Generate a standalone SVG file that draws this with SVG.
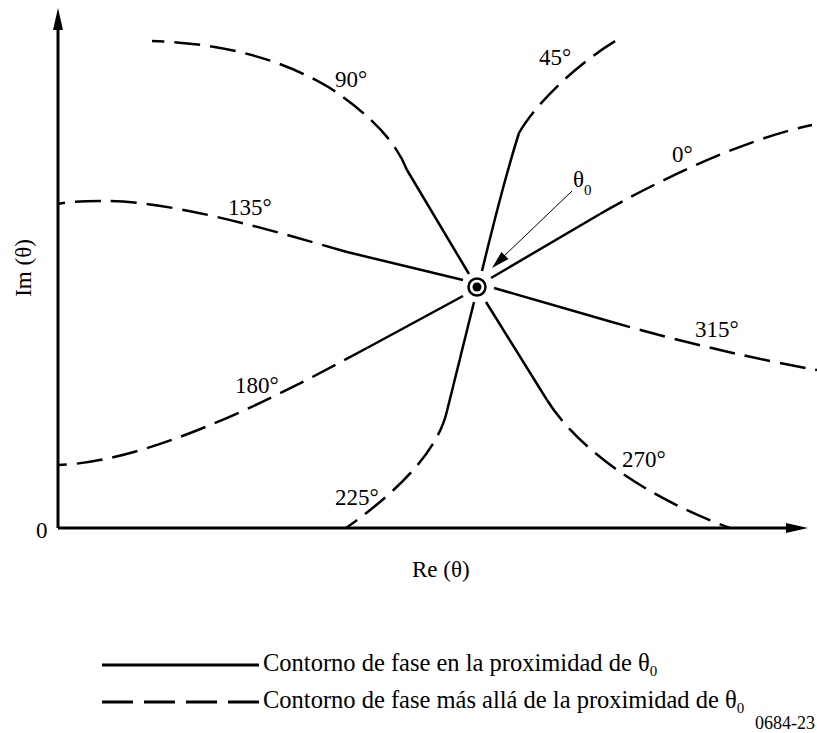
<svg xmlns="http://www.w3.org/2000/svg" width="817" height="733" viewBox="0 0 817 733">
<defs>
<style>
.solid{fill:none;stroke:#000;stroke-width:2.5;stroke-linecap:butt}
.dash{fill:none;stroke:#000;stroke-width:2.5;stroke-dasharray:26 10}
.axis{fill:none;stroke:#000;stroke-width:3}
text{font-family:"Liberation Serif","Times New Roman",serif;font-size:23px;fill:#000}
.sub{font-size:15px}
.leg{font-size:24.5px}
</style>
</defs>
<rect width="817" height="733" fill="#fff"/>
<g id="axes">
<path class="axis" d="M58,528 L58,28 M58,528 L790,528"/>
<polygon points="58,8 53,30 63,30" fill="#000"/>
<polygon points="808,528 786,523 786,533" fill="#000"/>
<text x="36" y="538">0</text>
<text x="412" y="577">Re (θ)</text>
<text transform="translate(31,268) rotate(-90)" text-anchor="middle">Im (θ)</text>
</g>
<g id="connectors">
<g id="c0"><path class="solid" d="M491,278 L600,214"/><path class="dash" d="M600,214 C650,185 740,140 812,125"/><text x="672" y="162">0°</text></g>
<g id="c45"><path class="solid" d="M482,271 C490,238 504,180 519,133"/><path class="dash" d="M519,133 C535,105 575,65 617,40"/><text x="539" y="65">45°</text></g>
<g id="c90"><path class="solid" d="M469,274 L407,170"/><path class="dash" d="M407,170 C395,140 370,115 330,88 C280,58 220,43 152,41"/><text x="335" y="87">90°</text></g>
<g id="c135"><path class="solid" d="M463,280 L347,252"/><path class="dash" d="M347,252 C270,230 170,200 100,201 C80,201 68,202 58,204"/><text x="228" y="215">135°</text></g>
<g id="c180"><path class="solid" d="M463,296 L367,348"/><path class="dash" d="M367,348 C307,380 160,462 58,465"/><text x="235" y="393">180°</text></g>
<g id="c225"><path class="solid" d="M474,302 Q462,350 447,411"/><path class="dash" d="M447,411 C438,450 400,490 346,528"/><text x="335" y="505">225°</text></g>
<g id="c270"><path class="solid" d="M486,302 L547,400"/><path class="dash" d="M547,400 C575,445 640,495 730,528"/><text x="622" y="467">270°</text></g>
<g id="c315"><path class="solid" d="M494,288 L605,320"/><path class="dash" d="M605,320 C680,342 760,360 817,370"/><text x="695" y="337">315°</text></g>
</g>
<g id="theta0">
<circle cx="477" cy="287" r="8.5" fill="#fff" stroke="#000" stroke-width="2.5"/>
<circle cx="477" cy="287" r="4.5" fill="#000"/>
<path d="M572,191 L503,257" stroke="#000" stroke-width="1" fill="none"/>
<polygon points="492,268 508.5,259.1 501.5,251.9" fill="#000"/>
<text x="573" y="187">θ<tspan class="sub" dy="8">0</tspan></text>
</g>
<g id="legend">
<path d="M102,665 L259,665" stroke="#000" stroke-width="3"/>
<text class="leg" x="263" y="671">Contorno de fase en la proximidad de θ<tspan class="sub" dy="5">0</tspan></text>
<path d="M102,702 L259,702" stroke="#000" stroke-width="3" stroke-dasharray="31 11"/>
<text class="leg" x="263" y="708">Contorno de fase más allá de la proximidad de θ<tspan class="sub" dy="5">0</tspan></text>
<text x="815" y="729" text-anchor="end" style="font-size:18px">0684-23</text>
</g>
</svg>
